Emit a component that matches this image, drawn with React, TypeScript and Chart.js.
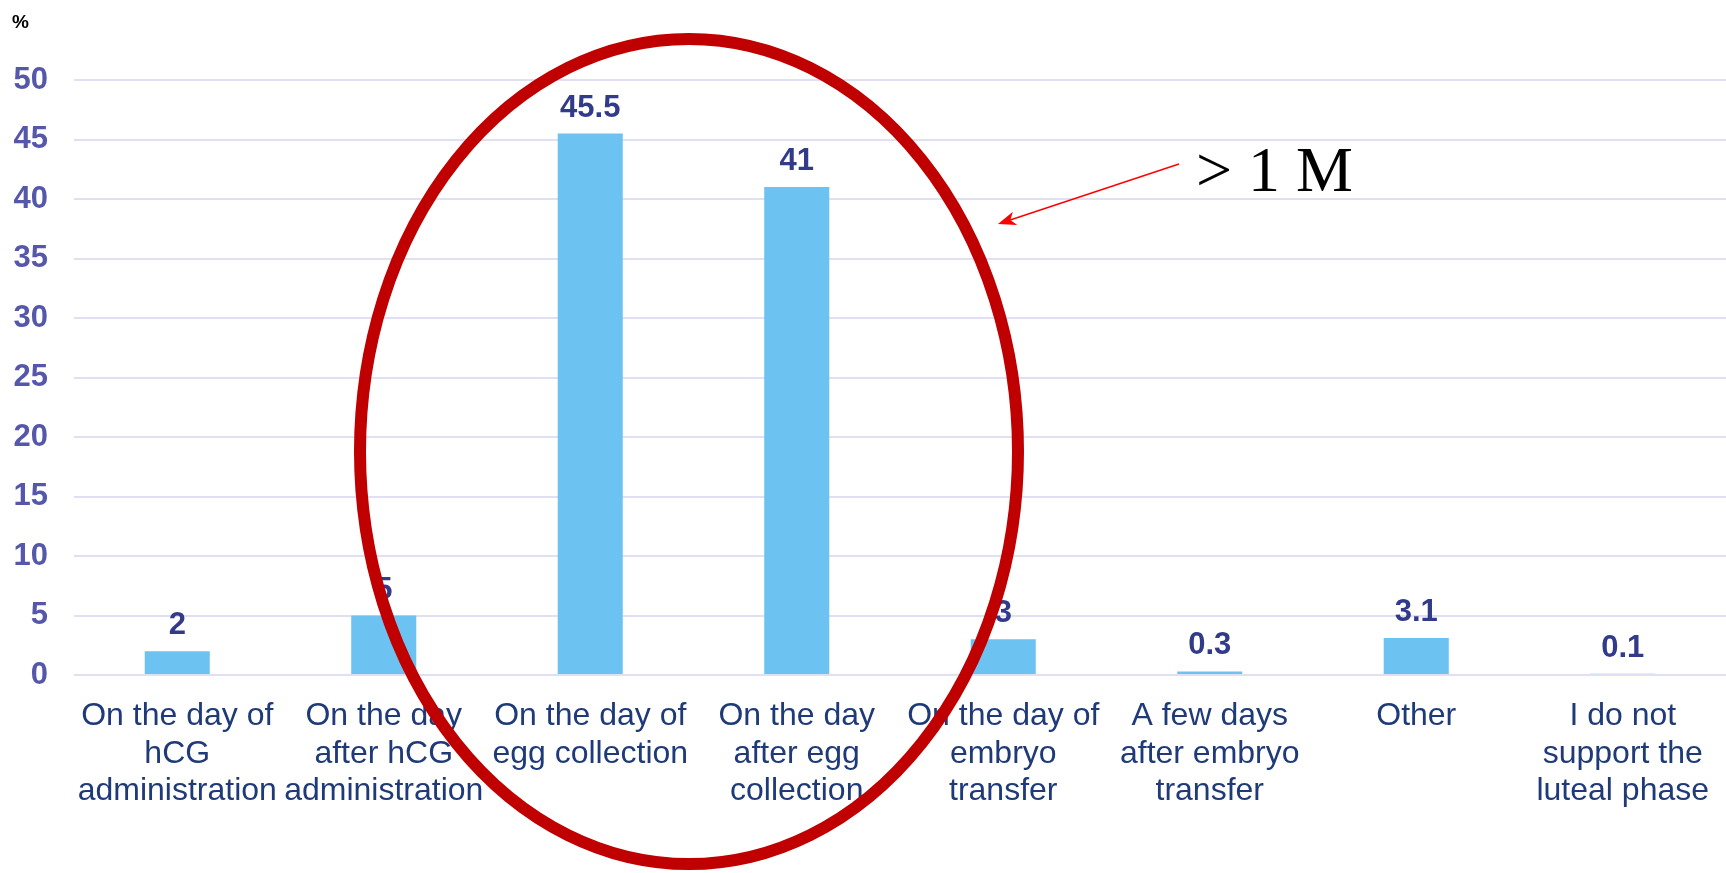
import React, { useEffect, useRef } from "react";
import { Chart, registerables } from "chart.js";

Chart.register(...registerables);

const categories: string[][] = [
  ["On the day of", "hCG", "administration"],
  ["On the day", "after hCG", "administration"],
  ["On the day of", "egg collection"],
  ["On the day", "after egg", "collection"],
  ["On the day of", "embryo", "transfer"],
  ["A few days", "after embryo", "transfer"],
  ["Other"],
  ["I do not", "support the", "luteal phase"],
];
const values: number[] = [2, 5, 45.5, 41, 3, 0.3, 3.1, 0.1];
const valueLabels: string[] = ["2", "5", "45.5", "41", "3", "0.3", "3.1", "0.1"];
const yTicks: number[] = [0, 5, 10, 15, 20, 25, 30, 35, 40, 45, 50];
const unitLabel = "%";
const annotationText = "> 1 M";

const FONT = "'Liberation Sans', Arial, Helvetica, sans-serif";

const overlayPlugin = {
  id: "overlay",
  afterDatasetsDraw(chart: any) {
    const ctx = chart.ctx;
    const meta = chart.getDatasetMeta(0);
    ctx.save();
    ctx.font = `bold 31px ${FONT}`;
    ctx.fillStyle = "#323a8a";
    ctx.textAlign = "center";
    ctx.textBaseline = "alphabetic";
    meta.data.forEach((bar: any, i: number) => {
      ctx.fillText(valueLabels[i], bar.x, bar.y - 17);
    });
    ctx.restore();
  },
  afterDraw(chart: any) {
    const ctx = chart.ctx;
    ctx.save();
    // unit label
    ctx.font = `bold 19px ${FONT}`;
    ctx.fillStyle = "#000000";
    ctx.textAlign = "left";
    ctx.textBaseline = "alphabetic";
    ctx.fillText(unitLabel, 12, 28);

    // red ellipse
    ctx.strokeStyle = "#c00000";
    ctx.lineWidth = 12;
    ctx.beginPath();
    ctx.ellipse(689, 451.5, 329, 412.5, 0, 0, Math.PI * 2);
    ctx.stroke();

    // arrow
    const x1 = 1179, y1 = 164, x2 = 998, y2 = 224;
    const ang = Math.atan2(y2 - y1, x2 - x1);
    const c = Math.cos(ang), s = Math.sin(ang);
    ctx.strokeStyle = "#ff0000";
    ctx.fillStyle = "#ff0000";
    ctx.lineWidth = 1.5;
    ctx.beginPath();
    ctx.moveTo(x1, y1);
    ctx.lineTo(x2 - 12 * c, y2 - 12 * s);
    ctx.stroke();
    ctx.beginPath();
    ctx.moveTo(x2, y2);
    ctx.lineTo(x2 - 18 * c + 7 * s, y2 - 18 * s - 7 * c);
    ctx.lineTo(x2 - 13 * c, y2 - 13 * s);
    ctx.lineTo(x2 - 18 * c - 7 * s, y2 - 18 * s + 7 * c);
    ctx.closePath();
    ctx.fill();

    // annotation text
    ctx.font = `64px 'Liberation Serif', 'Times New Roman', serif`;
    ctx.fillStyle = "#000000";
    ctx.textAlign = "left";
    ctx.fillText(annotationText, 1196, 191);
    ctx.restore();
  },
};

export default function App() {
  const ref = useRef<HTMLCanvasElement | null>(null);
  useEffect(() => {
    document.body.style.margin = "0";
    const canvas = ref.current;
    if (!canvas) return;
    const chart = new Chart(canvas, {
      type: "bar",
      data: {
        labels: categories,
        datasets: [
          {
            data: values,
            backgroundColor: "#6cc3f1",
            barPercentage: 0.315,
            categoryPercentage: 1,
          },
        ],
      },
      options: {
        animation: false,
        responsive: false,
        devicePixelRatio: 1,
        layout: { padding: { top: 80, right: 0, left: 0, bottom: 0 } },
        plugins: {
          legend: { display: false },
          tooltip: { enabled: false },
          title: { display: false },
        },
        scales: {
          x: {
            grid: { display: false, drawTicks: false },
            border: { display: false },
            ticks: {
              color: "#1f3a78",
              font: { family: FONT, size: 32, lineHeight: 1.16 },
              padding: 23,
              maxRotation: 0,
              autoSkip: false,
            },
            afterFit: (scale: any) => {
              scale.height = 198;
              scale.paddingLeft = 0;
              scale.paddingRight = 0;
            },
          },
          y: {
            min: 0,
            max: 50,
            afterBuildTicks: (scale: any) => {
              scale.ticks = yTicks.map((v) => ({ value: v }));
            },
            grid: { color: "#e0e0f2", lineWidth: 2, drawTicks: false },
            border: { display: false },
            ticks: {
              color: "#5558aa",
              font: { family: FONT, size: 31, weight: "bold" },
              padding: 26,
            },
            afterFit: (scale: any) => {
              scale.width = 74;
            },
          },
        },
      },
      plugins: [overlayPlugin],
    });
    return () => chart.destroy();
  }, []);
  return (
    <div style={{ position: "fixed", left: 0, top: 0, width: 1726, height: 873, background: "#ffffff" }}>
      <canvas ref={ref} width={1726} height={873} />
    </div>
  );
}
